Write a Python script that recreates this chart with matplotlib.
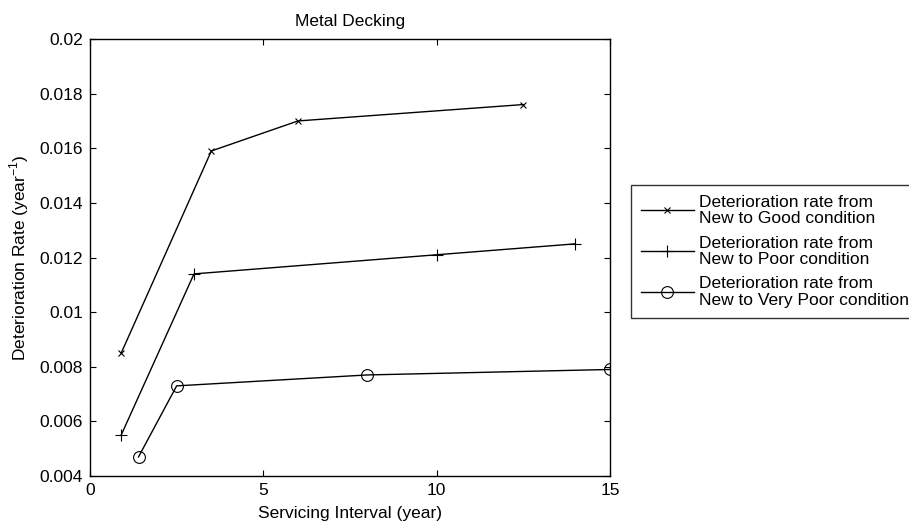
import matplotlib
matplotlib.use("Agg")
import matplotlib.pyplot as plt

plt.rcParams['font.family'] = ['Liberation Sans', 'DejaVu Sans']

good_x = [0.9, 3.5, 6.0, 12.5]
good_y = [0.0085, 0.0159, 0.0170, 0.0176]
poor_x = [0.9, 3.0, 10.0, 14.0]
poor_y = [0.0055, 0.0114, 0.0121, 0.0125]
vpoor_x = [1.4, 2.5, 8.0, 15.0]
vpoor_y = [0.0047, 0.0073, 0.0077, 0.0079]
labels = ["Deterioration rate from\nNew to Good condition",
          "Deterioration rate from\nNew to Poor condition",
          "Deterioration rate from\nNew to Very Poor condition"]
xticks = [0, 5, 10, 15]
yticks = [0.004, 0.006, 0.008, 0.01, 0.012, 0.014, 0.016, 0.018, 0.02]
yticklabels = ["0.004", "0.006", "0.008", "0.01", "0.012", "0.014", "0.016", "0.018", "0.02"]

FS = 12.5
W, H = 909, 523
fig = plt.figure(figsize=(W / 100, H / 100), dpi=100)
ax = fig.add_axes([90 / W, 1 - 476 / H, (610 - 90) / W, (476 - 39) / H])

lw = 1.0
ax.plot(good_x, good_y, color='black', lw=lw, marker='x', ms=4.5, mew=0.8, label=labels[0])
ax.plot(poor_x, poor_y, color='black', lw=lw, marker='+', ms=9, mew=0.8, label=labels[1])
ax.plot(vpoor_x, vpoor_y, color='black', lw=lw, marker='o', ms=8.5, mfc='none', mew=0.8, label=labels[2])

ax.set_xlim(0, 15)
ax.set_ylim(0.004, 0.02)
ax.set_xticks(xticks)
ax.set_yticks(yticks)
ax.set_yticklabels(yticklabels)
ax.tick_params(direction='in', length=4, width=0.8, labelsize=FS, top=True, right=True, pad=5)
for s in ax.spines.values():
    s.set_linewidth(1.0)

ax.set_title("Metal Decking", fontsize=FS, pad=9.5)
ax.set_xlabel("Servicing Interval (year)", fontsize=FS, labelpad=5.5)
ax.set_ylabel("Deterioration Rate (year$^{\\mathregular{-1}}$)", fontsize=FS, labelpad=6)

leg = fig.legend(loc='upper left', bbox_to_anchor=(631 / W, 1 - 184.5 / H),
                 bbox_transform=fig.transFigure, fontsize=FS, frameon=True,
                 fancybox=False, edgecolor='black', handlelength=3.0,
                 handletextpad=0.3, labelspacing=0.55, borderpad=0.6,
                 borderaxespad=0)
leg.get_frame().set_linewidth(1.0)
for t in leg.get_texts():
    t.set_linespacing(1.1)

fig.savefig("out.png", dpi=100, facecolor='white')
